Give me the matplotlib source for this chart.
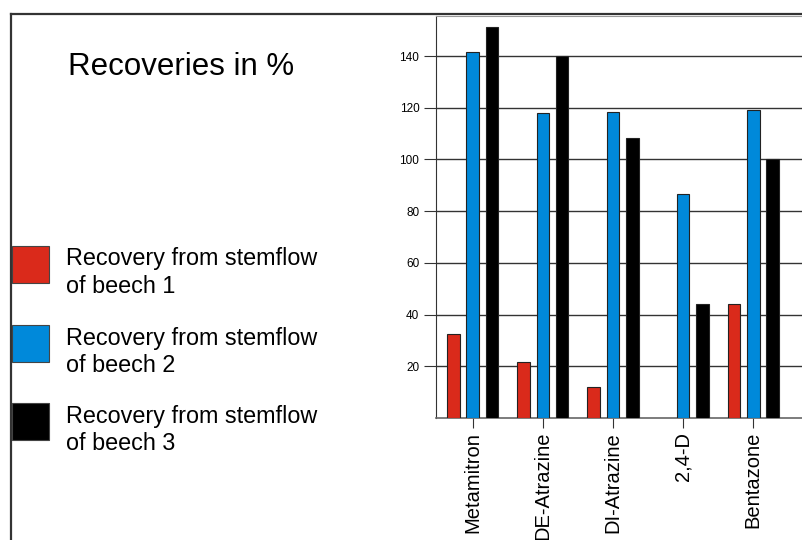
import numpy as np
import matplotlib.pyplot as plt
from matplotlib.lines import Line2D
from matplotlib.patches import Rectangle

# ------------------------------------------------------------
# Daten
# ------------------------------------------------------------
substances = ["Metamitron", "DE-Atrazine", "DI-Atrazine", "2,4-D", "Bentazone"]
beech_1 = [32.6, 21.5, 11.9, np.nan, 44.0]
beech_2 = [141.5, 118.1, 118.5, 86.5, 119.1]
beech_3 = [151.1, 140.0, 108.2, 44.2, 100.2]
series_labels = [
    "Recovery from stemflow\nof beech 1",
    "Recovery from stemflow\nof beech 2",
    "Recovery from stemflow\nof beech 3",
]
series_colors = ["#DA2A1B", "#0089DA", "#000000"]
y_ticks = [20, 40, 60, 80, 100, 120, 140]
title = "Recoveries in %"

plt.rcParams["font.family"] = ["Liberation Sans", "DejaVu Sans"]

W, H = 802, 540
fig = plt.figure(figsize=(W / 100, H / 100), dpi=100)
fig.patch.set_facecolor("white")

# Achse (rechts abgeschnitten wie im Original)
ax = fig.add_axes([436 / W, (H - 418) / H, (W - 436) / W, (418 - 16) / H])

x = np.arange(len(substances))
width = 0.18
offset = 0.275
for k, (vals, col) in enumerate(zip([beech_1, beech_2, beech_3], series_colors)):
    ax.bar(x + (k - 1) * offset, vals, width=width, color=col,
           edgecolor="#222222", linewidth=0.8, zorder=3)

ax.set_xlim(-0.524, 4.696)
ax.set_ylim(0, 155.5)
ax.set_yticks(y_ticks)
ax.set_yticklabels([str(v) for v in y_ticks], fontsize=8.5)
ax.set_xticks(x)
ax.set_xticklabels(substances, rotation=90, fontsize=14.5, va="top")
ax.tick_params(axis="y", length=9, width=0.8, pad=3, color="#333333")
ax.tick_params(axis="x", length=7, width=0.8, pad=3, color="#333333")

for v in y_ticks:
    ax.axhline(v, color="#333333", linewidth=1.0, zorder=1)

ax.spines["right"].set_visible(False)
ax.spines["top"].set_color("#999999")
ax.spines["left"].set_color("#333333")
ax.spines["bottom"].set_color("#666666")
ax.spines["bottom"].set_linewidth(1.2)

# Rahmen um die Folie
fig.add_artist(Line2D([11 / W, 1.0], [1 - 14 / H, 1 - 14 / H],
                      transform=fig.transFigure, color="#333333", linewidth=1.6))
fig.add_artist(Line2D([11 / W, 11 / W], [0.0, 1 - 14 / H],
                      transform=fig.transFigure, color="#333333", linewidth=1.6))

# Titel
fig.text(68 / W, 1 - 75 / H, title, fontsize=22.5, va="baseline", ha="left")

# Legende (manuell)
box_tops = [246, 325, 403]
for top, lab, col in zip(box_tops, series_labels, series_colors):
    fig.add_artist(Rectangle((12 / W, 1 - (top + 37) / H), 37 / W, 37 / H,
                             transform=fig.transFigure, facecolor=col,
                             edgecolor="#444444", linewidth=0.8))
    fig.text(66 / W, 1 - (top + 1.5) / H, lab, fontsize=16.8, va="top",
             ha="left", linespacing=1.25)

fig.savefig("out.png", dpi=100)
